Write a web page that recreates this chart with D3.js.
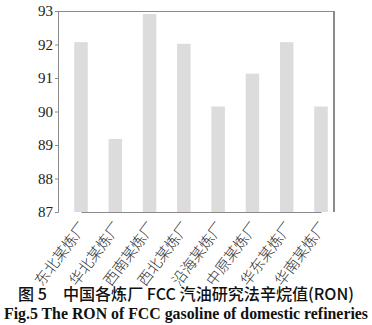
<!DOCTYPE html>
<html>
<head>
<meta charset="utf-8">
<script src="https://cdn.jsdelivr.net/npm/d3@7"></script>
<style>
  body { margin: 0; background: #fff; }
  svg { display: block; }
</style>
</head>
<body>
<svg id="chart" width="372" height="325"></svg>
<script>
const plants = ["东北某炼厂", "华北某炼厂", "西南某炼厂", "西北某炼厂", "沿海某炼厂", "中原某炼厂", "华东某炼厂", "华南某炼厂"];
const ron = [92.07, 89.18, 92.91, 92.02, 90.15, 91.13, 92.07, 90.15];
const yTicks = [87, 88, 89, 90, 91, 92, 93];
const captionCn = "图 5　中国各炼厂 FCC 汽油研究法辛烷值(RON)";
const captionEn = "Fig.5 The RON of FCC gasoline of domestic refineries";

const svg = d3.select("#chart");
const margin = { left: 58, top: 11, right: 334, bottom: 212 };
const w = margin.right - margin.left, h = margin.bottom - margin.top;

const x = d3.scalePoint().domain(plants).range([23, 263]);
const y = d3.scaleLinear().domain([87, 93]).range([h, 0]);
const barW = 13.5;

const g = svg.append("g").attr("transform", `translate(${margin.left},${margin.top})`);

// frame (top + right)
g.append("line").attr("x1", 0).attr("x2", w).attr("y1", 0.5).attr("y2", 0.5)
  .attr("stroke", "#8a8a8a").attr("stroke-width", 1);
g.append("line").attr("x1", w).attr("x2", w).attr("y1", 0).attr("y2", h)
  .attr("stroke", "#8a8a8a").attr("stroke-width", 2);

g.selectAll("rect.bar")
  .data(ron)
  .join("rect")
  .attr("class", "bar")
  .attr("x", (d, i) => x(plants[i]) - barW / 2)
  .attr("width", barW)
  .attr("y", d => y(d))
  .attr("height", d => h - y(d))
  .attr("fill", "#dcdcdc");

const yAxis = g.append("g")
  .call(d3.axisLeft(y).tickValues(yTicks).tickSize(3).tickPadding(2).tickFormat(d3.format("d")));
yAxis.select(".domain").attr("stroke", "#8a8a8a");
yAxis.selectAll(".tick line").attr("stroke", "#8a8a8a");
yAxis.selectAll("text")
  .attr("font-family", "'Liberation Serif', 'Times New Roman', serif")
  .attr("font-size", 15).attr("fill", "#222");

const xAxis = g.append("g")
  .attr("transform", `translate(0,${h})`)
  .call(d3.axisBottom(x).tickSize(0).tickPadding(0));
xAxis.select(".domain").attr("stroke", "#8a8a8a");
xAxis.selectAll("text")
  .attr("font-family", "'Noto Sans CJK SC', sans-serif")
  .attr("font-weight", 300)
  .attr("font-size", 15).attr("fill", "#333")
  .attr("text-anchor", "end")
  .attr("dy", 0)
  .attr("transform", "translate(6,15) rotate(-53)");

svg.append("text")
  .attr("x", 186).attr("y", 300)
  .attr("text-anchor", "middle")
  .attr("font-family", "'Noto Sans CJK SC', sans-serif")
  .attr("font-weight", 500)
  .attr("font-size", 16).attr("fill", "#111")
  .attr("textLength", 336).attr("lengthAdjust", "spacingAndGlyphs")
  .text(captionCn);

svg.append("text")
  .attr("x", 186).attr("y", 319)
  .attr("text-anchor", "middle")
  .attr("font-family", "'Liberation Serif', 'Times New Roman', serif")
  .attr("font-weight", "bold")
  .attr("font-size", 16).attr("fill", "#111")
  .attr("textLength", 364).attr("lengthAdjust", "spacingAndGlyphs")
  .text(captionEn);
</script>
</body>
</html>
